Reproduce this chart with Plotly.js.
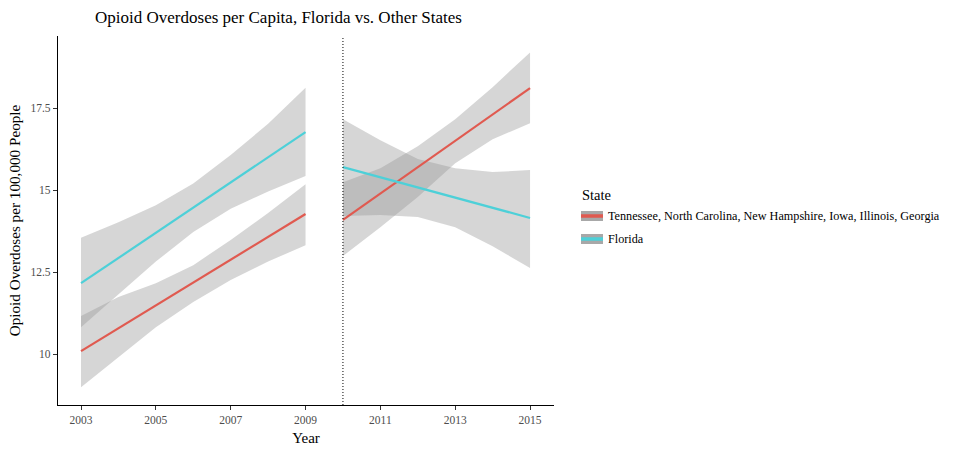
<!DOCTYPE html>
<html>
<head>
<meta charset="utf-8">
<script src="https://cdn.plot.ly/plotly-3.0.1.min.js"></script>
<style>html,body{margin:0;padding:0;background:#fff;}#chart{width:966px;height:453px;}</style>
</head>
<body>
<div id="chart"></div>
<script>
// Pre-policy period (2003-2009)
const yearsPre = [2003, 2004, 2005, 2006, 2007, 2008, 2009];
const otherPreFit = [10.09, 10.79, 11.48, 12.18, 12.88, 13.57, 14.27];
const otherPreUpper = [11.16, 11.74, 12.16, 12.71, 13.48, 14.30, 15.18];
const otherPreLower = [8.99, 9.90, 10.82, 11.59, 12.26, 12.82, 13.32];
const floridaPreFit = [12.16, 12.93, 13.70, 14.47, 15.23, 16.00, 16.77];
const floridaPreUpper = [13.55, 14.02, 14.54, 15.20, 16.07, 17.02, 18.12];
const floridaPreLower = [10.82, 11.82, 12.82, 13.72, 14.43, 14.96, 15.43];

// Post-policy period (2010-2015)
const yearsPost = [2010, 2011, 2012, 2013, 2014, 2015];
const otherPostFit = [14.09, 14.89, 15.70, 16.50, 17.31, 18.11];
const otherPostUpper = [15.24, 15.67, 16.34, 17.16, 18.14, 19.20];
const otherPostLower = [12.99, 13.87, 14.79, 15.82, 16.55, 17.04];
const floridaPostFit = [15.70, 15.39, 15.08, 14.77, 14.46, 14.15];
const floridaPostUpper = [17.16, 16.52, 15.95, 15.67, 15.55, 15.61];
const floridaPostLower = [14.21, 14.24, 14.18, 13.87, 13.29, 12.62];

const policyYear = 2010;
const xTicks = [2003, 2005, 2007, 2009, 2011, 2013, 2015];
const yTicks = [10, 12.5, 15, 17.5];
const yTickText = ['10', '12.5', '15', '17.5'];
const seriesNames = ['Tennessee, North Carolina, New Hampshire, Iowa, Illinois, Georgia', 'Florida'];

const RED = '#E05A50';
const CYAN = '#4DD0D8';
const BAND = 'rgba(153,153,153,0.4)';
const FONT = 'Liberation Serif, Times New Roman, serif';

function band(x, lo, hi) {
  return [
    {x: x, y: lo, mode: 'lines', line: {width: 0, color: 'rgba(0,0,0,0)'}, hoverinfo: 'skip', showlegend: false},
    {x: x, y: hi, mode: 'lines', line: {width: 0, color: 'rgba(0,0,0,0)'}, fill: 'tonexty', fillcolor: BAND, hoverinfo: 'skip', showlegend: false}
  ];
}
function fitLine(x, y, color, name) {
  return {x: x, y: y, mode: 'lines', line: {width: 2.2, color: color}, name: name, showlegend: false};
}

const data = [].concat(
  band(yearsPre, otherPreLower, otherPreUpper),
  band(yearsPre, floridaPreLower, floridaPreUpper),
  band(yearsPost, otherPostLower, otherPostUpper),
  band(yearsPost, floridaPostLower, floridaPostUpper),
  [fitLine(yearsPre, otherPreFit, RED, seriesNames[0]),
   fitLine(yearsPre, floridaPreFit, CYAN, seriesNames[1]),
   fitLine(yearsPost, otherPostFit, RED, seriesNames[0]),
   fitLine(yearsPost, floridaPostFit, CYAN, seriesNames[1])]
);

const legendColors = [RED, CYAN];
const shapes = [
  {type: 'line', xref: 'x', yref: 'paper', x0: policyYear, x1: policyYear, y0: 0, y1: 1,
   line: {color: '#000', width: 1, dash: '1px,2px'}}
];
const annotations = [];
// legend (drawn manually, ggplot style)
const legX0 = 581, legX1 = 603;
const legY = [216, 239];
annotations.push({xref: 'paper', yref: 'paper', x: (580 - 58) / 496, y: (405 - 195) / 369, xanchor: 'left', yanchor: 'middle',
  text: 'State', showarrow: false, font: {family: FONT, size: 14.5, color: '#000'}});
legY.forEach(function (yc, i) {
  const py = (405 - yc) / 369;
  shapes.push({type: 'rect', xref: 'paper', yref: 'paper', x0: (legX0 - 58) / 496, x1: (legX1 - 58) / 496,
    y0: (405 - (yc + 5)) / 369, y1: (405 - (yc - 5)) / 369, fillcolor: '#a8a8a8', line: {width: 0}});
  shapes.push({type: 'line', xref: 'paper', yref: 'paper', x0: (legX0 - 58) / 496, x1: (legX1 - 58) / 496,
    y0: py, y1: py, line: {color: legendColors[i], width: 3.5}});
  annotations.push({xref: 'paper', yref: 'paper', x: (606 - 58) / 496, y: py, xanchor: 'left', yanchor: 'middle',
    text: seriesNames[i], showarrow: false, font: {family: FONT, size: 12.2, color: '#000'}});
});

const layout = {
  width: 966, height: 453,
  margin: {l: 58, r: 412, t: 36, b: 48, pad: 0},
  paper_bgcolor: '#fff', plot_bgcolor: '#fff',
  font: {family: FONT, color: '#000'},
  title: {text: 'Opioid Overdoses per Capita, Florida vs. Other States', x: 0.2883, xanchor: 'center', y: 0.962, yanchor: 'middle',
    font: {family: FONT, size: 17, color: '#000'}},
  xaxis: {
    range: [2002.385, 2015.64], tickvals: xTicks, ticks: 'outside', ticklen: 4, tickcolor: '#333', tickwidth: 1,
    showline: true, linecolor: '#000', linewidth: 1.2, showgrid: false, zeroline: false,
    tickfont: {family: FONT, size: 11.5, color: '#4d4d4d'},
    title: {text: 'Year', font: {family: FONT, size: 15, color: '#000'}, standoff: 7}
  },
  yaxis: {
    range: [8.445, 19.7], tickvals: yTicks, ticktext: yTickText, ticks: 'outside', ticklen: 4, tickcolor: '#333', tickwidth: 1,
    showline: true, linecolor: '#000', linewidth: 1.2, showgrid: false, zeroline: false,
    tickfont: {family: FONT, size: 11.5, color: '#4d4d4d'},
    title: {text: 'Opioid Overdoses per 100,000 People', font: {family: FONT, size: 15.2, color: '#000'}, standoff: 6}
  },
  shapes: shapes,
  annotations: annotations,
  showlegend: false
};

Plotly.newPlot('chart', data, layout, {displayModeBar: false, staticPlot: true});
</script>
</body>
</html>
